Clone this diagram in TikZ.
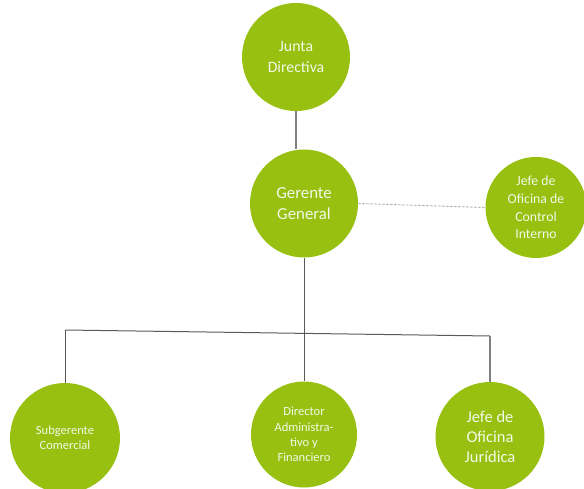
\documentclass[tikz,border=0pt]{standalone}
\usepackage{fontspec}
\setmainfont{Carlito}
\usepackage{xcolor}
\usetikzlibrary{positioning,calc}

\definecolor{orggreen}{RGB}{151,192,16}
\definecolor{orgtext}{RGB}{244,248,232}
\definecolor{orgline}{RGB}{90,90,90}

\begin{document}
\begin{tikzpicture}[x=1pt,y=1pt,
	unit/.style={circle,fill=orggreen,text=orgtext,inner sep=0pt,align=center},
	conn/.style={draw=orgline,line width=1pt},
	aux/.style={draw=gray!60,line width=0.9pt,dash pattern=on 2.5pt off 1.5pt}]
	\useasboundingbox (0,0) rectangle (584,-489);
	
	% top levels
	\node[unit,minimum size=108pt,font=\fontsize{15.8}{20.5}\selectfont] (JD) at (296,-57) {Junta\\Directiva};
	\node[unit,minimum size=108pt,font=\fontsize{16.8}{20.5}\selectfont] (GG) at (304,-203.5) {Gerente\\General};
	\node[unit,minimum size=101pt,font=\fontsize{13.8}{17.7}\selectfont] (CI) at (536,-207.5) {Jefe de\\Oficina de\\Control\\Interno};
	
	% bottom level
	\node[unit,minimum size=110pt,font=\fontsize{12.5}{15}\selectfont] (SC) at (65,-438) {Subgerente\\Comercial};
	\node[unit,minimum size=106pt,font=\fontsize{12.5}{15.3}\selectfont] (DA) at (304,-434.5) {Director\\Administra-\\tivo y\\Financiero};
	\node[unit,minimum size=109pt,font=\fontsize{16.5}{20}\selectfont] (JO) at (490,-436.5) {Jefe de\\Oficina\\Jurídica};
	
	% bus ends
	\coordinate (busL) at (65,-330);
	\coordinate (busR) at (490,-336);
	
	% connectors
	\draw[conn,draw=gray,line width=1.5pt] (JD.south) -- (JD.south |- GG.north);
	\draw[conn] (GG.south) -- (DA.north);
	\draw[conn] (busL) -- (busR);
	\draw[conn] (busL) -- (SC.north);
	\draw[conn,draw=gray,line width=1.4pt] (busR) -- (JO.north);
	\draw[aux] (GG.east) -- (CI.west);
\end{tikzpicture}
\end{document}
